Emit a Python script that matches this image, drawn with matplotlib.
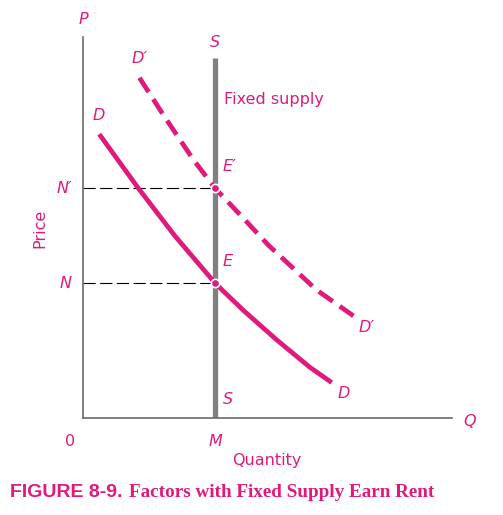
import matplotlib
matplotlib.use("Agg")
import matplotlib.pyplot as plt

# demand curves (quantity, price)
d_q = [0.44, 1.50, 2.49, 3.58, 4.34, 5.25, 6.15, 6.74]
d_p = [7.45, 6.03, 4.78, 3.54, 2.83, 2.05, 1.33, 0.93]
d2_q = [1.53, 2.18, 2.99, 3.58, 4.34, 5.02, 6.33, 7.33]
d2_p = [8.93, 7.95, 6.78, 6.03, 5.25, 4.54, 3.36, 2.68]

supply_q = 3.58
supply_top = 9.45
eq_p = 3.54      # N
eq2_p = 6.03     # N'

pink = "#E0197D"
gray = "#808080"

W, H = 503, 515
fig = plt.figure(figsize=(W / 100, H / 100), dpi=100)
ax = fig.add_axes([83 / W, (H - 418) / H, 369 / W, 381 / H])
ax.set_xlim(0, 10)
ax.set_ylim(0, 10)
for s in ["top", "right"]:
    ax.spines[s].set_visible(False)
for s in ["left", "bottom"]:
    ax.spines[s].set_color("#6a6a6a")
    ax.spines[s].set_linewidth(1.2)
ax.set_xticks([])
ax.set_yticks([])

# fixed supply
ax.plot([supply_q, supply_q], [0, supply_top], color=gray, lw=3.8,
        solid_capstyle="butt", zorder=2)

# guides
ax.plot([0, supply_q], [eq_p, eq_p], color="black", lw=0.8,
        dashes=(11, 4), zorder=1)
ax.plot([0, supply_q], [eq2_p, eq2_p], color="black", lw=0.8,
        dashes=(11, 4), zorder=1)

# demand
ax.plot(d_q, d_p, color=pink, lw=3.4, solid_capstyle="butt",
        solid_joinstyle="round", zorder=3)
ax.plot(d2_q, d2_p, color=pink, lw=3.4, dashes=(3.6, 1.8),
        dash_capstyle="butt", dash_joinstyle="round", zorder=3)

# equilibria
ax.plot([supply_q, supply_q], [eq_p, eq2_p], "o", color=pink, ms=6,
        mec="white", mew=1.2, zorder=4)

it = dict(color=pink, fontsize=11.5, style="italic")
ax.text(0, 10.25, "P", ha="center", va="bottom", **it)
ax.text(10.3, -0.08, "Q", ha="left", va="center", **it)
ax.text(supply_q, 9.65, "S", ha="center", va="bottom", **it)
ax.text(supply_q + 0.2, 0.3, "S", ha="left", va="bottom", **it)
ax.text(supply_q + 0.2, 6.4, "E\u2032", ha="left", va="bottom", **it)
ax.text(supply_q + 0.2, 3.9, "E", ha="left", va="bottom", **it)
ax.text(d_q[0], d_p[0] + 0.3, "D", ha="center", va="bottom", **it)
ax.text(d_q[-1] + 0.15, d_p[-1] - 0.1, "D", ha="left", va="top", **it)
ax.text(d2_q[0], d2_p[0] + 0.3, "D\u2032", ha="center", va="bottom", **it)
ax.text(d2_q[-1] + 0.15, d2_p[-1] - 0.1, "D\u2032", ha="left", va="top", **it)
ax.text(-0.3, eq_p, "N", ha="right", va="center", **it)
ax.text(-0.3, eq2_p, "N\u2032", ha="right", va="center", **it)
ax.text(-0.35, -0.42, "0", ha="center", va="top", color=pink, fontsize=11.5)
ax.text(supply_q, -0.42, "M", ha="center", va="top", **it)
ax.text(supply_q + 0.25, 8.35, "Fixed supply", ha="left", va="center",
        color=pink, fontsize=11.5)

fig.text(267 / W, 1 - 460 / H, "Quantity", ha="center", va="center",
         color=pink, fontsize=11.5)
fig.text(40 / W, 1 - 228 / H, "Price", ha="center", va="center",
         color=pink, fontsize=11.5, rotation=90)

fig.text(10 / W, 1 - 497 / H, "FIGURE 8-9.", ha="left", va="baseline",
         color=pink, fontsize=14, fontweight="bold", family="Liberation Sans")
fig.text(129 / W, 1 - 497 / H, "Factors with Fixed Supply Earn Rent",
         ha="left", va="baseline", color=pink, fontsize=13.8,
         fontweight="bold", family="Liberation Serif")

fig.savefig("out.png", dpi=100)
